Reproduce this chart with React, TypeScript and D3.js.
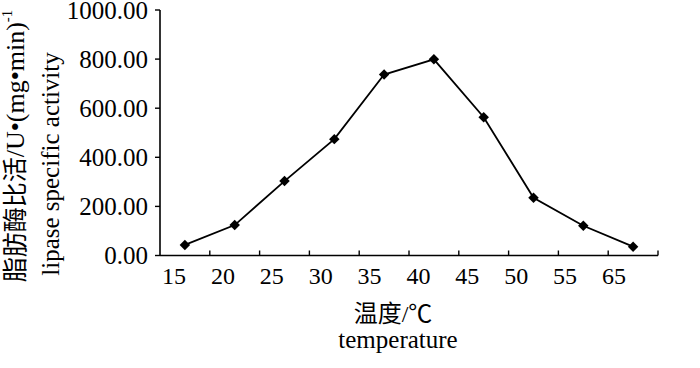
import * as d3 from "d3"
import { useRef, useEffect } from "react"

const temperatures = ["15", "20", "25", "30", "35", "40", "45", "50", "55", "65"]
const activity = [43, 124, 303, 474, 737, 799, 563, 235, 121, 36]
const yTicks = [0, 200, 400, 600, 800, 1000]

const FONT = "'Liberation Serif', 'Times New Roman', 'Noto Sans CJK SC', serif"

export default function App() {
  const svgRef = useRef<SVGSVGElement>(null)

  useEffect(() => {
    if (!svgRef.current) return
    const width = 700
    const height = 368
    const left = 160
    const right = 658
    const top = 10
    const bottom = 255.5

    const svg = d3.select(svgRef.current)
    svg.selectAll("*").remove()
    svg.attr("width", width).attr("height", height).attr("viewBox", `0 0 ${width} ${height}`)

    const x = d3.scaleBand<string>().domain(temperatures).range([left, right]).padding(0)
    const y = d3.scaleLinear().domain([0, 1000]).range([bottom, top])
    // tick labels in the original sit a little left of the bands
    const xLabel = d3.scalePoint<string>().domain(temperatures).range([174, 614])

    const g = svg.append("g").style("font-family", FONT).attr("fill", "#000")

    // y axis
    g.append("line")
      .attr("x1", left).attr("x2", left)
      .attr("y1", y(1000)).attr("y2", y(0))
      .attr("stroke", "#000").attr("stroke-width", 1.6)

    g.selectAll(".ytick")
      .data(yTicks)
      .enter()
      .append("line")
      .attr("x1", left - 5).attr("x2", left)
      .attr("y1", (d) => y(d)).attr("y2", (d) => y(d))
      .attr("stroke", "#000").attr("stroke-width", 1.4)

    g.selectAll(".ylabel")
      .data(yTicks)
      .enter()
      .append("text")
      .attr("x", left - 12)
      .attr("y", (d) => y(d))
      .attr("dy", "0.34em")
      .attr("text-anchor", "end")
      .style("font-size", "25px")
      .text((d) => d3.format(".2f")(d))

    // x axis
    g.append("line")
      .attr("x1", left).attr("x2", right)
      .attr("y1", bottom).attr("y2", bottom)
      .attr("stroke", "#000").attr("stroke-width", 1.6)

    g.selectAll(".xtick")
      .data(temperatures)
      .enter()
      .append("line")
      .attr("x1", (d) => (x(d) ?? 0) + x.bandwidth())
      .attr("x2", (d) => (x(d) ?? 0) + x.bandwidth())
      .attr("y1", bottom).attr("y2", bottom - 5)
      .attr("stroke", "#000").attr("stroke-width", 1.4)

    g.selectAll(".xlabel")
      .data(temperatures)
      .enter()
      .append("text")
      .attr("x", (d) => xLabel(d) ?? 0)
      .attr("y", 284)
      .attr("text-anchor", "middle")
      .style("font-size", "24px")
      .text((d) => d)

    // series
    const cx = (i: number) => (x(temperatures[i]) ?? 0) + x.bandwidth() / 2
    const line = d3
      .line<number>()
      .x((_, i) => cx(i))
      .y((d) => y(d))

    g.append("path")
      .datum(activity)
      .attr("d", line)
      .attr("fill", "none")
      .attr("stroke", "#000")
      .attr("stroke-width", 1.8)

    const diamond = d3.symbol().type(d3.symbolDiamond2).size(70)
    g.selectAll(".pt")
      .data(activity)
      .enter()
      .append("path")
      .attr("d", diamond)
      .attr("transform", (d, i) => `translate(${cx(i)},${y(d)})`)
      .attr("fill", "#000")

    // axis titles
    const yt1 = g.append("text")
      .attr("transform", "translate(24,146) rotate(-90)")
      .attr("text-anchor", "middle")
      .style("font-size", "25px")
    yt1.append("tspan").text("脂肪酶比活")
    yt1.append("tspan").style("font-size", "26px").text("/U•(mg•min)")
    yt1.append("tspan").attr("dy", -12).style("font-size", "15px").text("-1")

    g.append("text")
      .attr("transform", "translate(59,164) rotate(-90)")
      .attr("text-anchor", "middle")
      .style("font-size", "25px")
      .text("lipase specific activity")

    g.append("text")
      .attr("x", 393).attr("y", 322)
      .attr("text-anchor", "middle")
      .style("font-size", "24px")
      .text("温度/℃")

    g.append("text")
      .attr("x", 398).attr("y", 348)
      .attr("text-anchor", "middle")
      .style("font-size", "25px")
      .text("temperature")
  }, [])

  return (
    <div style={{ position: "absolute", left: 0, top: 0 }}>
      <svg ref={svgRef} style={{ display: "block", background: "#fff" }}></svg>
    </div>
  )
}
